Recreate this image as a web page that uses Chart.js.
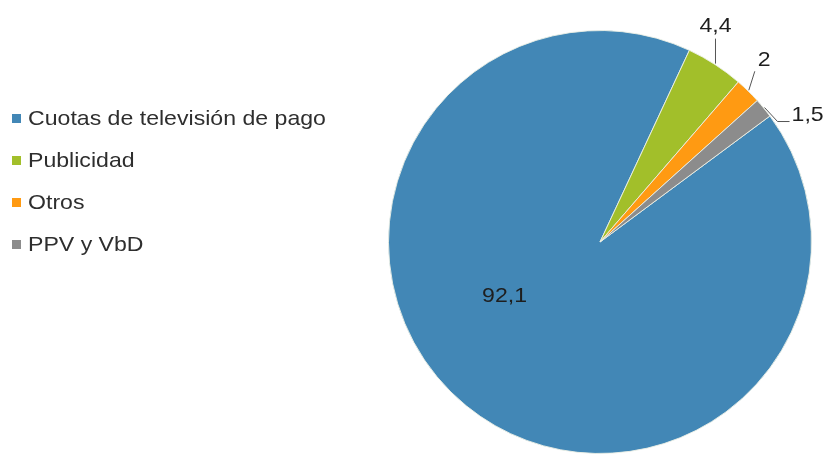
<!DOCTYPE html>
<html>
<head>
<meta charset="utf-8">
<script src="https://cdn.jsdelivr.net/npm/chart.js@4"></script>
<style>
  html, body { margin: 0; padding: 0; background: #ffffff; }
  #wrap { width: 825px; height: 460px; position: relative; }
</style>
</head>
<body>
<div id="wrap"><canvas id="c" width="825" height="460"></canvas></div>
<script>
// Ingresos de televisión de pago por concepto (%)
const categories = ['Cuotas de televisión de pago', 'Publicidad', 'Otros', 'PPV y VbD'];
const shares = [92.1, 4.4, 2, 1.5];
const valueLabels = ['92,1', '4,4', '2', '1,5'];
const sliceColors = ['#4287b6', '#a2bf2a', '#ff9a12', '#8c8c8c'];

const FONT = '"Liberation Sans", Arial, sans-serif';
const TEXT_STRETCH = 1.1;

// Draws text with a slight horizontal stretch
function wideText(ctx, str, x, y, align) {
  const w = ctx.measureText(str).width * TEXT_STRETCH;
  let left = x;
  if (align === 'center') left = x - w / 2;
  else if (align === 'right') left = x - w;
  ctx.save();
  ctx.translate(left, y);
  ctx.scale(TEXT_STRETCH, 1);
  ctx.textAlign = 'left';
  ctx.fillText(str, 0, 0);
  ctx.restore();
}

// Legend drawn at the left, one row per category
const sideLegend = {
  id: 'sideLegend',
  afterDraw(chart) {
    const ctx = chart.ctx;
    const ds = chart.data.datasets[0];
    ctx.save();
    ctx.font = '21px ' + FONT;
    ctx.textBaseline = 'middle';
    chart.data.labels.forEach((lab, i) => {
      const y = 118 + i * 42;
      ctx.fillStyle = ds.backgroundColor[i];
      ctx.fillRect(12, y - 4, 9, 9);
      ctx.fillStyle = '#2e2e2e';
      wideText(ctx, lab, 28, y + 1, 'left');
    });
    ctx.restore();
  }
};

// Value labels: inside for the large slice, with leader lines for the small ones
const leaderPlacement = [
  null,
  { pts: [[0, -25]], text: [0, -37], align: 'center' },
  { pts: [[6, -19]], text: [9, -30], align: 'left' },
  { pts: [[13, 14], [25, 14]], text: [27, 8], align: 'left' }
];

const sliceLabels = {
  id: 'sliceLabels',
  afterDatasetsDraw(chart) {
    const ctx = chart.ctx;
    const arcs = chart.getDatasetMeta(0).data;
    ctx.save();
    ctx.font = '21px ' + FONT;
    ctx.fillStyle = '#1e1e1e';
    ctx.strokeStyle = '#555555';
    ctx.lineWidth = 1;
    ctx.textBaseline = 'middle';
    arcs.forEach((arc, i) => {
      const p = arc.getProps(['x', 'y', 'startAngle', 'endAngle', 'outerRadius'], true);
      const mid = (p.startAngle + p.endAngle) / 2;
      if (i === 0) {
        const a = mid + 21 * Math.PI / 180;
        const r = p.outerRadius * 0.52;
        wideText(ctx, valueLabels[i], p.x + Math.cos(a) * r, p.y + Math.sin(a) * r, 'center');
        return;
      }
      const ex = p.x + Math.cos(mid) * (p.outerRadius + 1);
      const ey = p.y + Math.sin(mid) * (p.outerRadius + 1);
      const pl = leaderPlacement[i];
      ctx.beginPath();
      ctx.moveTo(ex, ey);
      pl.pts.forEach(([dx, dy]) => ctx.lineTo(ex + dx, ey + dy));
      ctx.stroke();
      wideText(ctx, valueLabels[i], ex + pl.text[0], ey + pl.text[1], pl.align);
    });
    ctx.restore();
  }
};

new Chart(document.getElementById('c'), {
  type: 'pie',
  data: {
    labels: categories,
    datasets: [{
      data: shares,
      backgroundColor: sliceColors,
      borderColor: 'rgba(235,240,230,0.9)',
      borderWidth: 1
    }]
  },
  options: {
    responsive: false,
    animation: false,
    rotation: 53.44,
    layout: { padding: { left: 375, right: 0, top: 30, bottom: 6 } },
    plugins: {
      legend: { display: false },
      tooltip: { enabled: false }
    }
  },
  plugins: [sideLegend, sliceLabels]
});
</script>
</body>
</html>
